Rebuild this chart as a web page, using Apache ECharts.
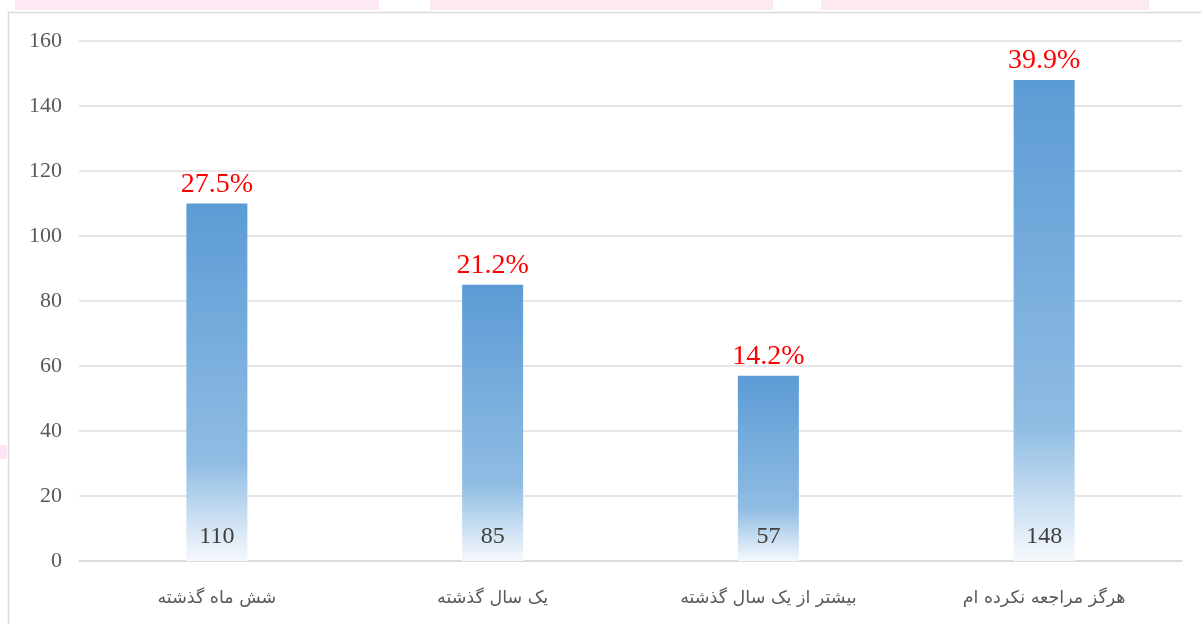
<!DOCTYPE html>
<html>
<head>
<meta charset="utf-8">
<script src="https://cdn.jsdelivr.net/npm/echarts@6/dist/echarts.min.js"></script>
<style>
  html, body { margin: 0; padding: 0; background: #fff; }
  #chart { width: 1201px; height: 624px; }
</style>
</head>
<body>
<div id="chart"></div>
<script>
const categories = ['شش ماه گذشته', 'یک سال گذشته', 'بیشتر از یک سال گذشته', 'هرگز مراجعه نکرده ام'];
const counts = [110, 85, 57, 148];
const percents = ['27.5%', '21.2%', '14.2%', '39.9%'];
const yTicks = { min: 0, max: 160, interval: 20 };

let myChart = echarts.init(document.getElementById('chart'));

const barFill = new echarts.graphic.LinearGradient(0, 0, 0, 1, [
  { offset: 0, color: '#5b9bd5' },
  { offset: 0.72, color: '#8fbce3' },
  { offset: 1, color: '#f6f9fd' }
]);

let option = {
  animation: false,
  backgroundColor: '#fff',
  graphic: [
    { type: 'rect', shape: { x: 15, y: 0, width: 364, height: 10 }, style: { fill: '#fce9f4' }, silent: true },
    { type: 'rect', shape: { x: 430, y: 0, width: 343, height: 10 }, style: { fill: '#fdeaf0' }, silent: true },
    { type: 'rect', shape: { x: 821, y: 0, width: 328, height: 10 }, style: { fill: '#fdeaf0' }, silent: true },
    { type: 'rect', shape: { x: 0, y: 445, width: 7, height: 14 }, style: { fill: '#fce6f3' }, silent: true },
    { type: 'rect', shape: { x: 8.5, y: 12.5, width: 1220, height: 640 }, style: { fill: 'none', stroke: '#d9d9d9', lineWidth: 1.5 }, silent: true }
  ],
  grid: { left: 79, right: 19, top: 41, bottom: 63 },
  xAxis: {
    type: 'category',
    data: categories,
    axisLine: { show: true, lineStyle: { color: '#d9d9d9', width: 1.5 } },
    axisTick: { show: false },
    axisLabel: {
      color: '#595959',
      fontFamily: 'DejaVu Sans',
      fontSize: 17.5,
      margin: 28
    }
  },
  yAxis: {
    type: 'value',
    min: yTicks.min,
    max: yTicks.max,
    interval: yTicks.interval,
    axisLine: { show: false },
    axisTick: { show: false },
    axisLabel: {
      color: '#595959',
      fontFamily: 'Liberation Serif',
      fontSize: 22,
      margin: 17
    },
    splitLine: { lineStyle: { color: '#dedede', width: 1.5 } }
  },
  series: [
    {
      type: 'bar',
      data: counts,
      barWidth: 61,
      itemStyle: { color: barFill },
      label: {
        show: true,
        position: 'insideBottom',
        distance: 12,
        color: '#404040',
        fontFamily: 'Liberation Serif',
        fontSize: 24
      }
    },
    {
      type: 'bar',
      data: counts,
      barWidth: 61,
      barGap: '-100%',
      itemStyle: { color: 'transparent' },
      label: {
        show: true,
        position: 'top',
        distance: 5,
        color: '#ff0000',
        fontFamily: 'Liberation Serif',
        fontSize: 28,
        formatter: function (p) { return percents[p.dataIndex]; }
      }
    }
  ]
};

option && myChart.setOption(option);
</script>
</body>
</html>
